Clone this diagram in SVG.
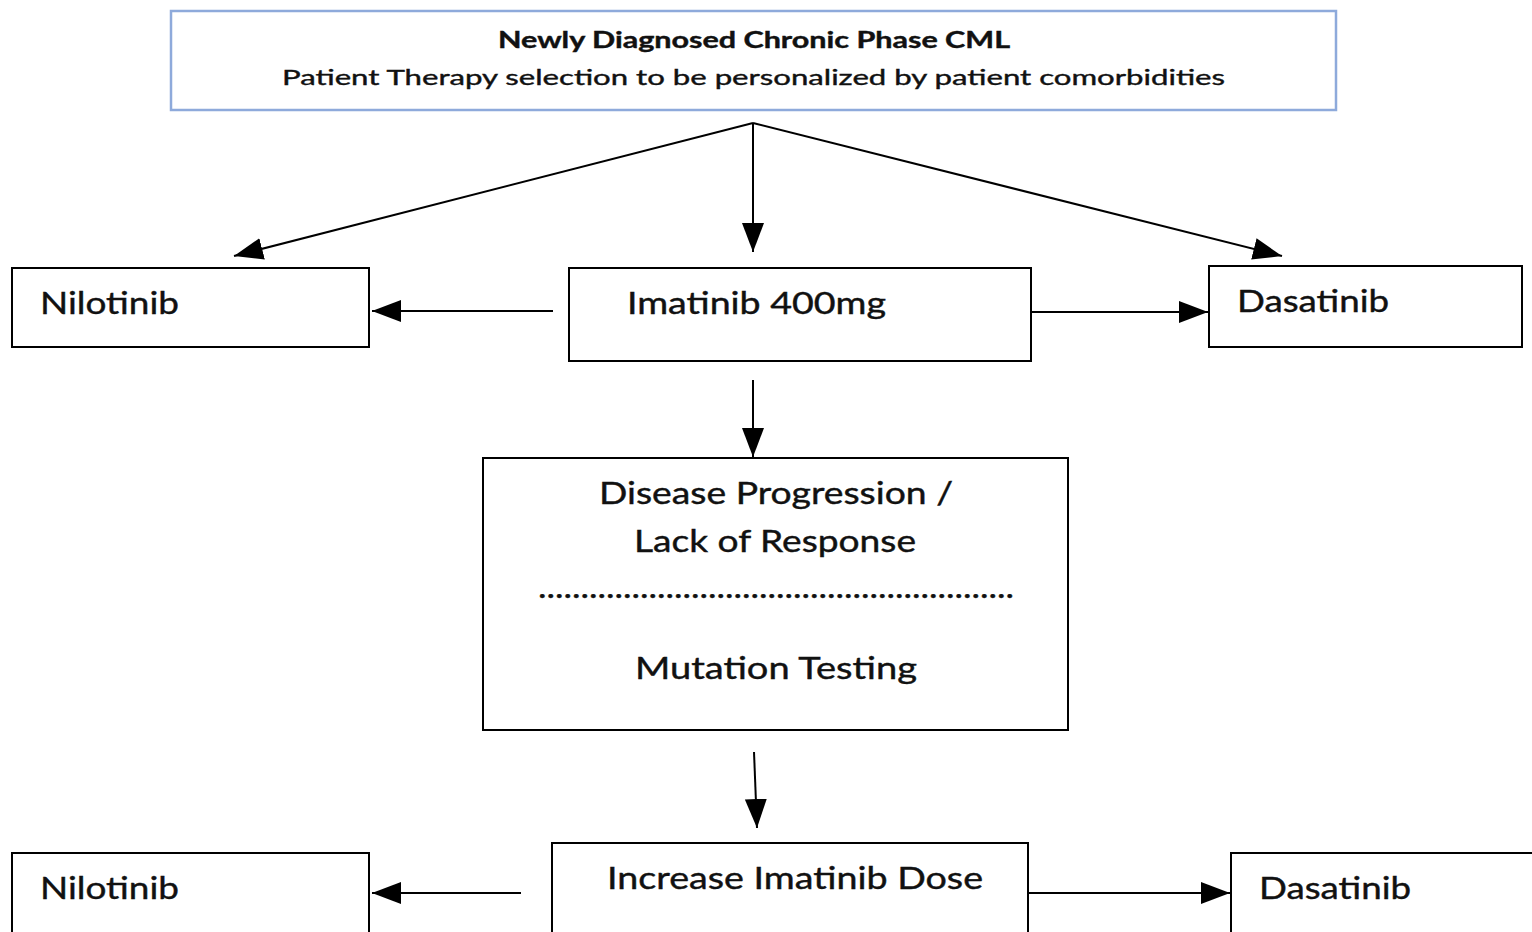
<svg xmlns="http://www.w3.org/2000/svg" width="1532" height="932" viewBox="0 0 1532 932">
<style>
.box{fill:#fff;stroke:#000;stroke-width:2}
.top{fill:#fff;stroke:#8eaadb;stroke-width:2.5}
.t{font-family:Lato,"Open Sans","Liberation Sans",sans-serif;fill:#111;stroke:#111;stroke-width:0.4}
.big{font-size:30px}
.mid{font-size:30px}
.ln{stroke:#000;stroke-width:2;fill:none}
</style>
<defs>
<marker id="ah" markerUnits="userSpaceOnUse" markerWidth="32" markerHeight="24" refX="29" refY="11" orient="auto" viewBox="0 0 32 24">
<path d="M0,0 L29,11 L0,22 z" fill="#000"/>
</marker>
</defs>
<rect width="1532" height="932" fill="#fff"/>
<g id="n-top">
<rect class="top" x="171" y="11" width="1165" height="99"/>
<text class="t" x="498" y="48" font-size="22" font-weight="bold" textLength="512" lengthAdjust="spacingAndGlyphs">Newly Diagnosed Chronic Phase CML</text>
<text class="t" x="282" y="85" font-size="22" textLength="943" lengthAdjust="spacingAndGlyphs">Patient Therapy selection to be personalized by patient comorbidities</text>
</g>
<g id="n-nilo1">
<rect class="box" x="12" y="268" width="357" height="79"/>
<text class="t big" x="40" y="314" textLength="139" lengthAdjust="spacingAndGlyphs">Nilotinib</text>
</g>
<g id="n-ima">
<rect class="box" x="569" y="268" width="462" height="93"/>
<text class="t big" x="627" y="314" textLength="259" lengthAdjust="spacingAndGlyphs">Imatinib 400mg</text>
</g>
<g id="n-dasa1">
<rect class="box" x="1209" y="266" width="313" height="81"/>
<text class="t big" x="1237" y="312" textLength="152" lengthAdjust="spacingAndGlyphs">Dasatinib</text>
</g>
<g id="n-prog">
<rect class="box" x="483" y="458" width="585" height="272"/>
<text class="t mid" x="599" y="504" textLength="354" lengthAdjust="spacingAndGlyphs">Disease Progression /</text>
<text class="t mid" x="634" y="552" textLength="282" lengthAdjust="spacingAndGlyphs">Lack of Response</text>
<text class="t mid" x="538" y="598" textLength="476" lengthAdjust="spacingAndGlyphs">........................................................</text>
<text class="t mid" x="635" y="679" textLength="282" lengthAdjust="spacingAndGlyphs">Mutation Testing</text>
</g>
<g id="n-nilo2">
<rect class="box" x="12" y="853" width="357" height="100"/>
<text class="t big" x="40" y="899" textLength="139" lengthAdjust="spacingAndGlyphs">Nilotinib</text>
</g>
<g id="n-inc">
<rect class="box" x="552" y="843" width="476" height="110"/>
<text class="t big" x="607" y="889" textLength="376" lengthAdjust="spacingAndGlyphs">Increase Imatinib Dose</text>
</g>
<g id="n-dasa2">
<rect class="box" x="1231" y="853" width="320" height="100"/>
<text class="t big" x="1259" y="899" textLength="152" lengthAdjust="spacingAndGlyphs">Dasatinib</text>
</g>
<g id="connectors">
<line class="ln" x1="753" y1="123" x2="234" y2="256" marker-end="url(#ah)"/>
<line class="ln" x1="753" y1="123" x2="753" y2="252" marker-end="url(#ah)"/>
<line class="ln" x1="753" y1="123" x2="1282" y2="256" marker-end="url(#ah)"/>
<line class="ln" x1="553" y1="311" x2="372" y2="311" marker-end="url(#ah)"/>
<line class="ln" x1="1031" y1="312" x2="1208" y2="312" marker-end="url(#ah)"/>
<line class="ln" x1="753" y1="380" x2="753" y2="457" marker-end="url(#ah)"/>
<line class="ln" x1="754" y1="752" x2="757" y2="828" marker-end="url(#ah)"/>
<line class="ln" x1="521" y1="893" x2="372" y2="893" marker-end="url(#ah)"/>
<line class="ln" x1="1028" y1="893" x2="1230" y2="893" marker-end="url(#ah)"/>
</g>
</svg>
